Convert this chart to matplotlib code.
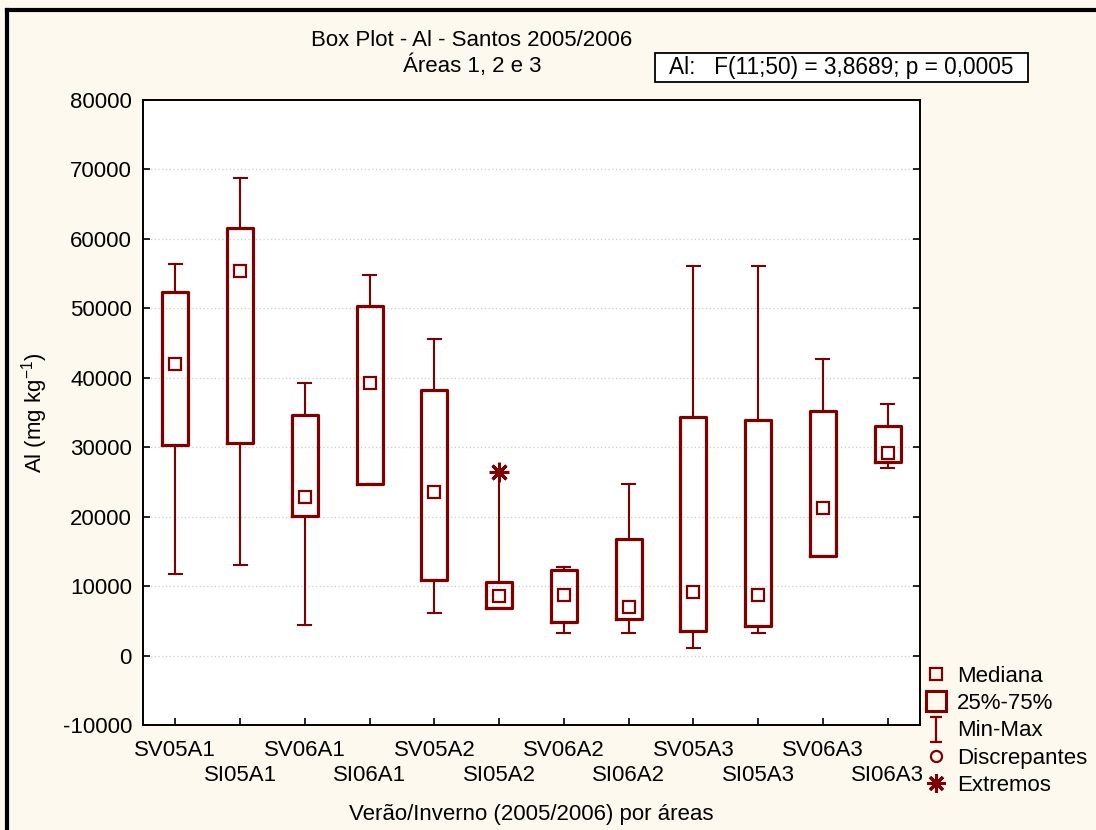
import matplotlib
matplotlib.use("Agg")
import matplotlib.pyplot as plt
from matplotlib.lines import Line2D
from matplotlib.path import Path
from matplotlib.patches import Rectangle

plt.rcParams['font.family'] = ['Liberation Sans', 'DejaVu Sans']

categories = ["SV05A1", "SI05A1", "SV06A1", "SI06A1", "SV05A2", "SI05A2",
              "SV06A2", "SI06A2", "SV05A3", "SI05A3", "SV06A3", "SI06A3"]
mins    = [11800, 13000, 4450, 24650, 6200, 6800, 3300, 3300, 1150, 3200, 14300, 27050]
q1      = [30250, 30600, 20150, 24700, 10900, 6900, 4800, 5230, 3500, 4320, 14400, 27850]
medians = [42000, 55400, 22800, 39300, 23500, 8550, 8750, 7000, 9200, 8650, 21200, 29200]
q3      = [52300, 61500, 34700, 50300, 38300, 10650, 12250, 16850, 34300, 33850, 35250, 33000]
maxs    = [56350, 68800, 39250, 54750, 45550, 26400, 12700, 24650, 56100, 56050, 42650, 36200]
extremes = {5: [26400]}   # index -> values (SI05A2)

yticks = [-10000, 0, 10000, 20000, 30000, 40000, 50000, 60000, 70000, 80000]

RED = "#800000"
BG = "#FDF9EE"

W, H = 1096, 830
fig = plt.figure(figsize=(W / 100, H / 100), dpi=100, facecolor=BG)
ax = fig.add_axes([143 / W, 1 - 725 / H, (920 - 143) / W, (725 - 100) / H])
ax.set_facecolor("white")

stats = []
for i in range(len(categories)):
    stats.append(dict(med=medians[i], q1=q1[i], q3=q3[i], whislo=mins[i],
                      whishi=maxs[i], mean=medians[i],
                      fliers=extremes.get(i, []), label=categories[i]))

positions = list(range(1, len(categories) + 1))
ax.bxp(stats, positions=positions, widths=0.4, showmeans=True,
       boxprops=dict(color=RED, linewidth=2.3),
       whiskerprops=dict(color=RED, linewidth=1.5),
       capprops=dict(color=RED, linewidth=1.5),
       capwidths=0.2,
       medianprops=dict(linestyle="none"),
       meanprops=dict(marker="s", markersize=9, markerfacecolor="white",
                      markeredgecolor=RED, markeredgewidth=1.6),
       flierprops=dict(marker=(8, 2, 0), markersize=14, markeredgecolor=RED,
                       markeredgewidth=2.2, markerfacecolor=RED),
       zorder=3)

ax.set_xlim(0.5, len(categories) + 0.5)
ax.set_ylim(-10000, 80000)
ax.set_yticks(yticks)
ax.set_yticklabels([str(v) for v in yticks], fontsize=16)

# staggered category labels: odd positions as major ticks, even as minor ticks
ax.set_xticks(positions[0::2])
ax.set_xticklabels(categories[0::2], fontsize=16)
ax.set_xticks(positions[1::2], minor=True)
ax.set_xticklabels(categories[1::2], minor=True, fontsize=16)
ax.tick_params(axis="x", which="major", direction="in", length=5, width=1.2, pad=11)
ax.tick_params(axis="x", which="minor", direction="in", length=5, width=1.2, pad=29)
ax.tick_params(axis="y", direction="in", length=5, width=1.2, left=True, right=True, pad=8)
ax.yaxis.grid(True, linestyle=(0, (1, 2)), color="#cfcfcf", linewidth=0.9)
ax.set_axisbelow(True)
for s in ax.spines.values():
    s.set_linewidth(1.4)
    s.set_color("black")

ax.set_ylabel("Al (mg kg$^{\\mathregular{-1}}$)", fontsize=16)
ax.yaxis.set_label_coords(-0.12, 0.5)
ax.set_xlabel("Verão/Inverno (2005/2006) por áreas", fontsize=16)
ax.xaxis.set_label_coords(0.5, -0.127)

# Titles
fig.text(472 / W, 1 - 40 / H, "Box Plot - Al - Santos 2005/2006", ha="center", va="center", fontsize=16)
fig.text(472 / W, 1 - 66 / H, "Áreas 1, 2 e 3", ha="center", va="center", fontsize=16)

# Statistics box
fig.add_artist(Rectangle((655 / W, 1 - 82 / H), (1028 - 655) / W, 29 / H,
                         transform=fig.transFigure, facecolor="white",
                         edgecolor="black", linewidth=1.3))
fig.text(841.5 / W, 1 - 67.5 / H, "Al:   F(11;50) = 3,8689; p = 0,0005", ha="center", va="center",
         fontsize=16.3)

# Figure border (top and left visible)
fig.add_artist(Line2D([7 / W, 1.01], [1 - 10 / H, 1 - 10 / H], transform=fig.transFigure,
                      color="black", linewidth=3))
fig.add_artist(Line2D([7 / W, 7 / W], [-0.01, 1 - 10 / H], transform=fig.transFigure,
                      color="black", linewidth=3))

# Legend
minmax_path = Path([(-0.5, 1), (0.5, 1), (0, 1), (0, -1), (-0.5, -1), (0.5, -1)],
                   [Path.MOVETO, Path.LINETO, Path.MOVETO, Path.LINETO, Path.MOVETO, Path.LINETO])
handles = [
    Line2D([], [], linestyle="none", marker="s", markersize=9, markerfacecolor="none",
           markeredgecolor=RED, markeredgewidth=1.6),
    Line2D([], [], linestyle="none", marker="s", markersize=15, markerfacecolor="none",
           markeredgecolor=RED, markeredgewidth=2.2),
    Line2D([], [], linestyle="none", marker=minmax_path, markersize=18,
           markeredgecolor=RED, markeredgewidth=1.6),
    Line2D([], [], linestyle="none", marker="o", markersize=8, markerfacecolor="none",
           markeredgecolor=RED, markeredgewidth=1.6),
    Line2D([], [], linestyle="none", marker=(8, 2, 0), markersize=13,
           markeredgecolor=RED, markeredgewidth=2.2),
]
labels = ["Mediana", "25%-75%", "Min-Max", "Discrepantes", "Extremos"]
fig.legend(handles, labels, loc="upper left", bbox_to_anchor=(926 / W, 1 - 666 / H),
           frameon=False, fontsize=16, handlelength=0.9, handletextpad=0.5,
           labelspacing=0.28, borderaxespad=0, borderpad=0)

fig.savefig("out.png", dpi=100, facecolor=BG)
